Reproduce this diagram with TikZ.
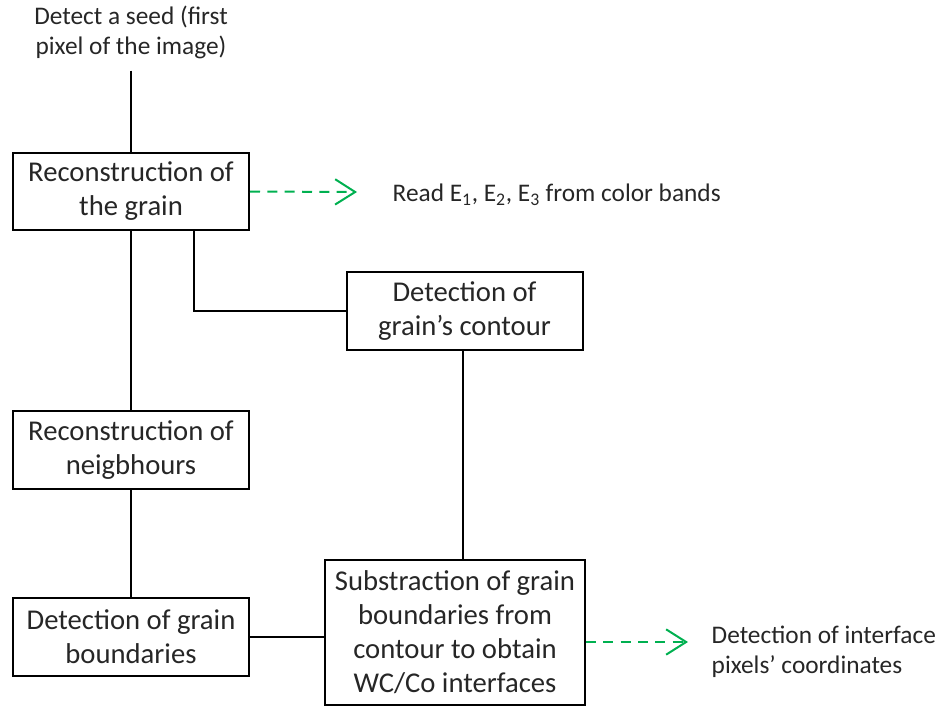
\documentclass[tikz,border=0pt]{standalone}
\usepackage{fontspec}
\setmainfont{Carlito}
\usepackage{tikz}
\usepackage{xcolor}
\usetikzlibrary{arrows.meta,positioning,calc}
\definecolor{Ink}{HTML}{262626}
\definecolor{Green}{HTML}{00B050}

\begin{document}
\begin{tikzpicture}[x=0.75pt,y=-0.75pt,
    box/.style={draw,line width=1.5pt,text=Ink,align=center,minimum width=177pt,minimum height=58pt,inner sep=2pt,font=\fontsize{21.5}{25.5}\selectfont},
    link/.style={line width=1.5pt},
    hint/.style={Green,line width=1.5pt,dash pattern=on 7.5pt off 5.5pt,-{Straight Barb[length=15pt,width=19pt,line width=1.5pt]}},
    note/.style={text=Ink,align=left,font=\fontsize{19}{22.5}\selectfont}]
  \useasboundingbox (0,0) rectangle (946,711);
  % main chain
  \node[text=Ink,align=center,font=\fontsize{19}{22.5}\selectfont,inner ysep=9pt] (seed) at (131,32) {Detect a seed (first\\pixel of the image)};
  \node[box] (recon) at (131,191.5) {Reconstruction of\\the grain};
  \node[box] (contour) at (464.5,311) {Detection of\\grain’s contour};
  \node[box] (neigh) at (131,450) {Reconstruction of\\neigbhours};
  \node[box] (bound) at (131,637) {Detection of grain\\boundaries};
  \node[box,minimum width=195pt,minimum height=109pt] (subtr) at (455,632.5) {Substraction of grain\\boundaries from\\contour to obtain\\WC/Co interfaces};
  \draw[link] (seed.south) -- (recon.north);
  \draw[link] (recon.south) -- (neigh.north);
  \draw[link] ([xshift=47pt]recon.south) |- (contour.west);
  \draw[link] (neigh.south) -- (bound.north);
  \draw[link] ([xshift=-1pt]contour.south) -- ([xshift=-1pt]contour.south |- subtr.north);
  \draw[link] (bound.east) -- (bound.east -| subtr.west);
  % side outputs
  \coordinate (readtip) at (357,192);
  \coordinate (ifacetip) at (688,642);
  \draw[hint] (recon.east) -- (readtip);
  \draw[hint] (subtr.east |- ifacetip) -- (ifacetip);
  \node[note,anchor=west] (read) at (388,195) {Read E\textsubscript{1}, E\textsubscript{2}, E\textsubscript{3} from color bands};
  \node[note,anchor=west] (iface) at (707,651.5) {Detection of interface\\pixels’ coordinates};
\end{tikzpicture}
\end{document}
